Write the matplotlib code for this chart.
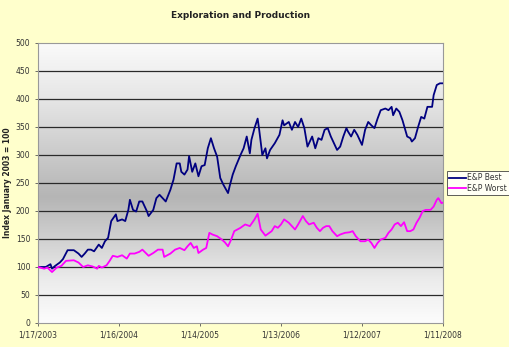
import numpy as np
import matplotlib
matplotlib.use("Agg")
import matplotlib.pyplot as plt
from matplotlib.colors import LinearSegmentedColormap

title = "Exploration and Production"
ylabel = "Index January 2003 = 100"
tick_labels = ["1/17/2003", "1/16/2004", "1/14/2005", "1/13/2006", "1/12/2007", "1/11/2008"]
tick_weeks = [0, 52, 104, 156, 208, 260]

best_weeks = [0, 5, 8, 9, 11, 14, 16, 19, 23, 26, 28, 30, 32, 34, 36, 39, 41, 43, 45, 47, 50, 51,
              54, 56, 58, 59, 61, 63, 65, 67, 70, 71, 74, 76, 78, 80, 82, 85, 87, 89, 91, 92, 94,
              96, 97, 99, 101, 103, 105, 107, 109, 111, 113, 115, 117, 119, 122, 123, 125, 127,
              130, 132, 134, 136, 137, 139, 141, 142, 144, 146, 147, 149, 152, 155, 157, 158,
              161, 163, 165, 167, 169, 171, 173, 176, 178, 180, 182, 184, 186, 188, 190, 192,
              194, 196, 198, 199, 201, 203, 205, 208, 210, 212, 214, 216, 218, 220, 223, 225,
              227, 228, 230, 232, 234, 237, 239, 240, 242, 244, 246, 248, 250, 253, 254, 256,
              258, 260]
best_vals = [100, 100, 105, 97, 102, 108, 114, 130, 130, 124, 118, 124, 131, 131, 128, 140, 134,
             146, 152, 182, 194, 182, 185, 182, 202, 220, 202, 199, 217, 217, 199, 191, 202, 223,
             229, 223, 217, 238, 256, 285, 285, 270, 265, 274, 298, 270, 285, 262, 280, 282, 312,
             330, 312, 297, 259, 247, 232, 244, 265, 280, 300, 312, 333, 303, 327, 348, 365, 345,
             300, 312, 294, 309, 321, 336, 362, 353, 359, 345, 359, 350, 365, 348, 315, 333, 312,
             330, 327, 345, 348, 333, 321, 309, 315, 333, 348, 342, 333, 345, 336, 318, 345, 359,
             353, 348, 365, 380, 383, 380, 386, 371, 383, 377, 362, 333, 330, 324, 330, 350, 368,
             365, 386, 386, 407, 425, 428, 428]

worst_weeks = [0, 4, 6, 9, 12, 15, 18, 23, 26, 29, 32, 35, 38, 39, 41, 44, 46, 48, 51, 54, 57,
               59, 62, 65, 67, 71, 74, 77, 80, 81, 85, 88, 91, 94, 96, 98, 100, 102, 103, 106,
               108, 110, 112, 115, 118, 120, 122, 124, 126, 130, 133, 136, 139, 141, 143, 146,
               148, 150, 152, 154, 156, 158, 161, 163, 165, 167, 170, 172, 174, 177, 179, 181,
               183, 185, 187, 189, 192, 194, 197, 200, 202, 204, 207, 210, 212, 214, 216, 218,
               220, 223, 225, 227, 229, 231, 233, 235, 237, 239, 241, 243, 245, 247, 249, 252,
               254, 256, 257, 259, 260]
worst_vals = [100, 97, 99, 91, 99, 102, 111, 112, 108, 100, 103, 101, 97, 102, 99, 103, 111, 120,
              118, 121, 115, 124, 124, 127, 131, 120, 125, 131, 131, 118, 124, 131, 134, 130, 137,
              143, 134, 137, 125, 131, 134, 161, 158, 155, 149, 144, 137, 149, 164, 170, 176, 173,
              185, 195, 167, 156, 160, 164, 173, 170, 176, 185, 179, 173, 167, 176, 191, 182, 176,
              179, 170, 164, 170, 173, 173, 164, 155, 158, 161, 162, 164, 155, 146, 146, 149, 143,
              134, 143, 149, 152, 161, 167, 176, 179, 173, 180, 164, 164, 167, 179, 188, 200, 202,
              202, 208, 220, 223, 214, 215]

series_names = ["E&P Best", "E&P Worst"]
series_colors = ["#000080", "#FF00FF"]

fig = plt.figure(figsize=(5.10, 3.47), dpi=100)
fig.patch.set_facecolor("#FFFFCC")
ax = fig.add_axes([38/510, 1-323/347, (443-38)/510, (323-43)/347])

# gradient background
cmap = LinearSegmentedColormap.from_list("g", [(0.0, "#FAFAFA"), (0.2, "#E6E6E6"),
                                               (0.55, "#B5B5B5"), (0.85, "#ECECEC"), (1.0, "#FCFCFC")])
grad = np.linspace(0, 1, 256).reshape(-1, 1)
ax.imshow(grad, aspect="auto", cmap=cmap, extent=[0, 1, 0, 1], transform=ax.transAxes, zorder=0)

for v in range(50, 500, 50):
    ax.axhline(v, color="#2a2a2a", lw=0.9, zorder=1)

l1, = ax.plot(best_weeks, best_vals, color=series_colors[0], lw=1.3, zorder=3, label=series_names[0])
l2, = ax.plot(worst_weeks, worst_vals, color=series_colors[1], lw=1.3, zorder=3, label=series_names[1])

ax.set_xlim(0, 260)
ax.set_ylim(0, 500)
ax.set_yticks(range(0, 501, 50))
ax.set_xticks(tick_weeks)
ax.set_xticklabels(tick_labels)
ax.tick_params(labelsize=5.5, colors="#555555", length=2, width=0.6)
for lab in ax.get_xticklabels() + ax.get_yticklabels():
    lab.set_color("#333333")
for s in ax.spines.values():
    s.set_color("#999999")
    s.set_linewidth(0.8)

ax.set_ylabel(ylabel, fontsize=5.5, fontweight="bold", color="#222222", labelpad=3)
fig.text(0.5 * (38 + 443) / 510, 1 - 15/347, title, ha="center", va="center",
         fontsize=6.5, fontweight="bold", color="#222222")

leg = fig.legend(handles=[l1, l2], loc="center", bbox_to_anchor=(478/510, 1-183/347),
                 fontsize=5.5, frameon=True, fancybox=False, handlelength=2.2,
                 borderpad=0.3, labelspacing=0.2, handletextpad=0.2)
leg.get_frame().set_edgecolor("#333333")
leg.get_frame().set_linewidth(0.7)
for t in leg.get_texts():
    t.set_color("#333333")

fig.savefig("out.png", dpi=100, facecolor=fig.get_facecolor())
